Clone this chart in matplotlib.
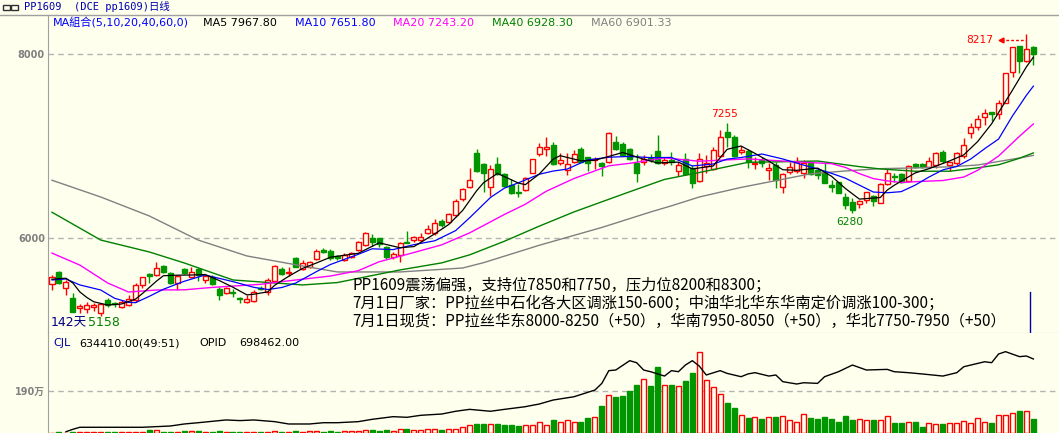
import matplotlib
matplotlib.use('Agg')
import matplotlib.pyplot as plt
import numpy as np
from matplotlib.lines import Line2D
from matplotlib.patches import Rectangle

plt.rcParams['font.family'] = ['DejaVu Sans', 'Noto Sans CJK SC']

# daily candles, PP1609
opens = [5503, 5634, 5456, 5355, 5239, 5228, 5250, 5192, 5329, 5300,
         5257, 5271, 5329, 5492, 5608, 5601, 5702, 5619, 5510, 5663,
         5583, 5666, 5547, 5576, 5445, 5409, 5420, 5347, 5311, 5318,
         5463, 5420, 5539, 5663, 5619, 5782, 5663, 5684, 5775, 5873,
         5865, 5808, 5765, 5801, 5873, 5928, 6000, 6000, 5902, 5793,
         5819, 5960, 5982, 5982, 6062, 6054, 6188, 6181, 6254, 6427,
         6554, 6931, 6808, 6562, 6808, 6696, 6580, 6503, 6525, 6714,
         6913, 6967, 7014, 6815, 6743, 6833, 6967, 6880, 6855, 6815,
         6833, 7050, 7025, 6971, 6815, 6833, 6869, 6952, 6815, 6851,
         6731, 6858, 6760, 6626, 6790, 6750, 6895, 7152, 7097, 6942,
         6952, 6808, 6851, 6742, 6797, 6554, 6724, 6735, 6713, 6815,
         6742, 6724, 6580, 6616, 6445, 6398, 6369, 6416, 6460, 6387,
         6590, 6673, 6699, 6626, 6808, 6808, 6771, 6797, 6942, 6797,
         6815, 6890, 7141, 7214, 7322, 7373, 7351, 7467, 7804, 8090,
         7931, 8076]
highs = [5601, 5648, 5547, 5409, 5286, 5308, 5300, 5300, 5347, 5311,
         5326, 5384, 5510, 5583, 5619, 5746, 5710, 5630, 5601, 5673,
         5684, 5673, 5601, 5601, 5474, 5474, 5445, 5358, 5384, 5438,
         5481, 5565, 5710, 5692, 5692, 5800, 5764, 5757, 5880, 5891,
         5880, 5818, 5837, 5855, 5975, 6072, 6047, 6000, 5917, 5855,
         5964, 6080, 6029, 6054, 6145, 6206, 6206, 6279, 6424, 6543,
         6761, 6967, 6815, 6797, 6880, 6707, 6641, 6590, 6670, 6859,
         7033, 7098, 7051, 6924, 6931, 6960, 6989, 6880, 6880, 6826,
         7159, 7112, 7050, 6978, 6916, 6905, 6916, 7123, 6887, 6942,
         6833, 6931, 6797, 6931, 6905, 6996, 7177, 7255, 7123, 7003,
         6967, 6880, 6880, 6815, 6833, 6706, 6833, 6880, 6851, 6833,
         6760, 6815, 6634, 6616, 6489, 6434, 6416, 6506, 6470, 6597,
         6749, 6706, 6713, 6797, 6822, 6815, 6887, 6942, 6960, 6833,
         6942, 7087, 7250, 7340, 7402, 7376, 7503, 7800, 8083, 8090,
         8217, 8090]
lows = [5438, 5503, 5384, 5200, 5192, 5184, 5213, 5158, 5257, 5257,
        5246, 5264, 5311, 5456, 5510, 5594, 5619, 5503, 5438, 5612,
        5565, 5539, 5510, 5492, 5329, 5395, 5366, 5293, 5300, 5311,
        5438, 5384, 5529, 5601, 5590, 5684, 5655, 5673, 5764, 5844,
        5764, 5764, 5750, 5783, 5866, 5917, 5917, 5910, 5772, 5772,
        5746, 5946, 5957, 5964, 6047, 6036, 6127, 6170, 6235, 6409,
        6543, 6725, 6507, 6460, 6688, 6561, 6482, 6452, 6518, 6707,
        6895, 6891, 6797, 6797, 6689, 6815, 6826, 6735, 6750, 6673,
        6822, 6960, 6895, 6851, 6616, 6797, 6833, 6808, 6797, 6797,
        6677, 6688, 6543, 6616, 6706, 6742, 6887, 6996, 6887, 6916,
        6760, 6750, 6772, 6634, 6543, 6496, 6699, 6713, 6652, 6688,
        6641, 6597, 6507, 6489, 6315, 6280, 6325, 6380, 6351, 6380,
        6579, 6615, 6604, 6615, 6760, 6760, 6760, 6760, 6815, 6735,
        6797, 6870, 7087, 7177, 7232, 7279, 7293, 7467, 7750, 7793,
        7920, 7884]
closes = [5576, 5510, 5529, 5202, 5268, 5275, 5275, 5286, 5271, 5286,
          5311, 5336, 5492, 5576, 5594, 5673, 5630, 5510, 5590, 5619,
          5630, 5601, 5590, 5503, 5384, 5463, 5402, 5337, 5340, 5420,
          5445, 5547, 5699, 5608, 5637, 5692, 5728, 5739, 5865, 5855,
          5782, 5782, 5819, 5844, 5957, 6054, 5964, 5938, 5801, 5830,
          5953, 5953, 6011, 6018, 6098, 6163, 6145, 6264, 6409, 6536,
          6634, 6735, 6707, 6750, 6699, 6572, 6489, 6496, 6659, 6859,
          6989, 6989, 6804, 6851, 6808, 6913, 6833, 6822, 6862, 6790,
          7141, 6967, 6905, 6858, 6713, 6858, 6851, 6815, 6851, 6826,
          6797, 6699, 6597, 6858, 6815, 6960, 7097, 7105, 6895, 6960,
          6833, 6822, 6815, 6760, 6634, 6695, 6771, 6833, 6822, 6699,
          6688, 6605, 6554, 6496, 6362, 6308, 6409, 6499, 6409, 6590,
          6713, 6667, 6615, 6786, 6771, 6771, 6840, 6931, 6844, 6826,
          6923, 7010, 7206, 7293, 7366, 7351, 7467, 7793, 8076, 7931,
          8054, 8003]

# volume (万手)
volumes = [2, 3, 2, 4, 3, 3, 3, 4, 3, 3,
           3, 4, 5, 5, 12, 13, 5, 6, 5, 10,
           10, 9, 5, 6, 10, 5, 5, 6, 5, 6,
           5, 6, 8, 6, 6, 7, 6, 7, 9, 6,
           8, 6, 7, 7, 9, 12, 13, 9, 13, 9,
           16, 16, 13, 13, 16, 19, 13, 16, 19, 25,
           34, 40, 40, 40, 40, 38, 35, 32, 35, 38,
           51, 36, 59, 51, 59, 51, 51, 69, 72, 122,
           172, 163, 167, 190, 219, 243, 213, 300, 217, 217,
           213, 235, 271, 365, 240, 207, 176, 137, 113, 80,
           68, 72, 63, 71, 72, 77, 59, 50, 86, 68,
           63, 72, 63, 50, 77, 59, 63, 59, 59, 59,
           77, 45, 45, 50, 50, 27, 45, 41, 41, 45,
           45, 54, 45, 68, 50, 45, 81, 81, 90, 100,
           100, 63.4]

# open interest (万手), read at these bars
oi_idx = [2, 3, 4, 8, 13, 15, 17, 19, 21, 25, 27, 29, 32, 34, 37, 39, 41, 44,
          46, 49, 51, 53, 56, 58, 60, 63, 65, 68, 69, 70, 72, 75, 78, 79, 80,
          81, 83, 84, 85, 86, 88, 89, 90, 91, 92, 93, 94, 96, 97, 99, 100, 101,
          103, 104, 105, 107, 108, 110, 111, 113, 115, 117, 120, 121, 123, 125,
          128, 130, 131, 134, 135, 136, 137, 139, 140, 141]
oi = [1.2, 3.5, 5.4, 5.4, 5.4, 6.0, 6.6, 8.5, 9.7, 12.3, 11.7, 12.3, 10.7, 8.5,
      8.5, 9.7, 9.7, 10.7, 12.9, 15.4, 14.8, 16.7, 17.9, 20.5, 22.3, 20.5, 22.3,
      24.8, 26.1, 27.3, 31.1, 34.2, 40.5, 46.8, 58.8, 59.4, 68.2, 66.3, 59.4,
      57.8, 53.7, 58.8, 57.8, 64.1, 68.2, 63.1, 54.7, 58.8, 56.2, 53.1, 55.7,
      56.9, 53.7, 54.7, 48.4, 46.2, 47.4, 46.8, 53.1, 57.8, 64.1, 59.4, 60.0,
      57.8, 56.9, 55.7, 53.7, 56.9, 62.5, 67.2, 66.3, 74.5, 76.7, 72.0, 72.6, 69.8]

# moving averages, read at these bars
ma5_idx = [0, 2, 3, 4, 5, 6, 8, 10, 12, 13, 15, 16, 18, 20, 22, 24, 26, 28, 29, 31,
           32, 34, 36, 38, 40, 41, 44, 47, 50, 52, 55, 57, 59, 61, 62, 64, 67, 68,
           70, 72, 73, 76, 78, 80, 82, 85, 87, 90, 92, 95, 97, 99, 101, 103, 105,
           107, 110, 112, 114, 116, 119, 120, 121, 124, 126, 129, 131, 133, 135,
           138, 140, 141]
ma5 = [5555, 5566, 5514, 5417, 5357, 5310, 5275, 5286, 5339, 5400, 5534, 5593,
       5599, 5601, 5606, 5542, 5468, 5385, 5392, 5418, 5490, 5587, 5673, 5732,
       5794, 5805, 5837, 5951, 5897, 5910, 6049, 6150, 6303, 6516, 6604, 6705,
       6601, 6583, 6698, 6860, 6898, 6842, 6848, 6890, 6933, 6860, 6819, 6828,
       6754, 6786, 6967, 7003, 6923, 6838, 6745, 6739, 6763, 6674, 6541, 6426,
       6443, 6524, 6576, 6710, 6757, 6842, 6907, 7052, 7245, 7611, 7864, 7968]
ma10_idx = [0, 2, 4, 7, 9, 11, 12, 14, 16, 19, 22, 26, 29, 31, 33, 35, 38, 40, 44,
            46, 49, 52, 55, 58, 60, 63, 65, 67, 70, 72, 74, 77, 80, 83, 86, 89, 92,
            95, 97, 99, 102, 105, 108, 110, 112, 114, 116, 118, 120, 122, 124, 126,
            128, 130, 132, 134, 136, 138, 139, 140, 141]
ma10 = [5547, 5558, 5493, 5438, 5348, 5304, 5300, 5370, 5446, 5533, 5601, 5529,
        5467, 5443, 5465, 5513, 5638, 5715, 5826, 5886, 5877, 5931, 5973, 6084,
        6223, 6444, 6545, 6603, 6696, 6731, 6752, 6853, 6881, 6890, 6877, 6879,
        6787, 6807, 6861, 6878, 6916, 6862, 6795, 6754, 6706, 6653, 6578, 6503,
        6495, 6507, 6577, 6666, 6744, 6781, 6862, 6974, 7079, 7331, 7442, 7555,
        7654]
ma20_idx = [0, 4, 8, 11, 15, 19, 23, 30, 33, 40, 44, 47, 51, 56, 60, 65, 68, 71, 75,
            80, 83, 88, 93, 100, 107, 112, 114, 116, 118, 120, 122, 124, 126, 128,
            131, 133, 136, 139, 141]
ma20 = [5839, 5709, 5514, 5416, 5438, 5440, 5466, 5500, 5529, 5590, 5648, 5745,
        5825, 5929, 6059, 6259, 6370, 6511, 6650, 6788, 6815, 6874, 6838, 6863,
        6831, 6811, 6770, 6703, 6649, 6624, 6606, 6615, 6622, 6628, 6666, 6739,
        6894, 7109, 7243]
ma40_idx = [0, 7, 14, 19, 26, 36, 41, 50, 56, 60, 65, 70, 75, 80, 83, 88, 93, 100,
            105, 110, 116, 119, 124, 129, 133, 136, 139, 141]
ma40 = [6283, 5981, 5851, 5732, 5547, 5493, 5519, 5656, 5733, 5820, 5968, 6132,
        6287, 6424, 6506, 6640, 6715, 6826, 6832, 6840, 6779, 6754, 6729, 6729,
        6766, 6799, 6870, 6928]
ma60_idx = [0, 7, 14, 21, 28, 36, 41, 50, 59, 62, 70, 79, 86, 89, 93, 99, 109, 114,
            119, 124, 129, 133, 139, 141]
ma60 = [6631, 6449, 6242, 5981, 5808, 5699, 5634, 5634, 5677, 5735, 5924, 6118,
        6286, 6353, 6449, 6553, 6701, 6732, 6757, 6765, 6777, 6797, 6873, 6901]

notes = ['PP1609震荡偏强，支持位7850和7750，压力位8200和8300；',
         '7月1日厂家：PP拉丝中石化各大区调涨150-600；中油华北华东华南定价调涨100-300；',
         '7月1日现货：PP拉丝华东8000-8250（+50），华南7950-8050（+50），华北7750-7950（+50）']

W, H = 1059, 433
BG = '#FFFFEE'
RED = '#FF0000'
GREEN = '#009600'
GRID = '#B4B4B4'
FRAME = '#A0A0A0'
CJK = ['DejaVu Sans', 'Noto Sans CJK SC']

o = np.array(opens, float)
h = np.array(highs, float)
l = np.array(lows, float)
c = np.array(closes, float)
v = np.array(volumes, float)
x = np.arange(len(c))
up = c >= o

fig = plt.figure(figsize=(W / 100, H / 100), dpi=100, facecolor=BG)


def fx(px):
    return px / W


def fy(py):
    return 1 - py / H


# price panel
ax = fig.add_axes([fx(48), fy(333), fx(W - 48), 318 / H], facecolor=BG)
ax.set_xlim(-0.575, 144.68)
ax.set_ylim(4970.6, 8427.2)

ax.vlines(x, l, h, colors=np.where(up, RED, GREEN), lw=1, zorder=2)
bot = np.minimum(o, c)
hgt = np.maximum(np.abs(c - o), 6)
ax.bar(x[up], hgt[up], bottom=bot[up], width=0.72, facecolor=BG,
       edgecolor=RED, lw=1, zorder=3)
ax.bar(x[~up], hgt[~up], bottom=bot[~up], width=0.72, facecolor=GREEN,
       edgecolor=GREEN, lw=1, zorder=3)

ax.plot(ma60_idx, ma60, color='#808080', lw=1, zorder=4)
ax.plot(ma40_idx, ma40, color='#008000', lw=1, zorder=4)
ax.plot(ma20_idx, ma20, color='#FF00FF', lw=1, zorder=4)
ax.plot(ma10_idx, ma10, color='#0000FF', lw=0.9, zorder=4)
ax.plot(ma5_idx, ma5, color='black', lw=0.9, zorder=4)

ax.set_yticks([6000, 8000])
ax.yaxis.grid(True, ls=(0, (4, 3)), color=GRID, lw=1)
ax.set_xticks([])
ax.tick_params(axis='y', length=0, pad=2.2, labelsize=7, labelcolor='#808080')
for t in ax.get_yticklabels():
    t.set_fontweight('bold')
for s in ['top', 'right']:
    ax.spines[s].set_visible(False)
for s in ['left', 'bottom']:
    ax.spines[s].set_color(FRAME)

# high / low markers
px_price = (8427.2 - 4970.6) / 318
i_hi = int(np.argmax(h))
ax.annotate(f'{h[97]:.0f}', xy=(97, h[97]), xytext=(-2, 3), textcoords='offset points',
            ha='center', va='bottom', color=RED, fontsize=7.7)
ax.annotate(f'{l[115]:.0f}', xy=(115, l[115]), xytext=(-2, -3), textcoords='offset points',
            ha='center', va='top', color='#008000', fontsize=7.7)
y_arr = h[i_hi] - 5.7 * px_price
ax.plot([i_hi - 3.6, i_hi], [y_arr, y_arr], color=RED, lw=1, ls=(0, (2, 1.5)), zorder=5)
ax.plot(i_hi - 3.6, y_arr, marker='<', ms=3.5, color=RED, zorder=5)
ax.text(i_hi - 4.7, y_arr, f'{h[i_hi]:.0f}', ha='right', va='center', color=RED, fontsize=7.7)

# cursor line
ax.axvline(len(c) - 1.5, ymin=0, ymax=41 / 318, color='#0000A0', lw=1)

# volume panel
axv = fig.add_axes([fx(48), 0, fx(W - 48), 100 / H], facecolor=BG)
axv.set_xlim(-0.575, 144.68)
axv.set_ylim(0, 452.4)
axv.bar(x[up], v[up], width=0.72, facecolor=BG, edgecolor=RED, lw=1, zorder=3)
axv.bar(x[~up], v[~up], width=0.72, facecolor=GREEN, edgecolor=GREEN, lw=1, zorder=3)
axv.set_yticks([190])
axv.set_yticklabels(['190万'], fontweight='bold', family=CJK)
axv.yaxis.grid(True, ls=(0, (4, 3)), color=GRID, lw=1)
axv.set_xticks([])
axv.tick_params(axis='y', length=0, pad=2.2, labelsize=7, labelcolor='#808080')
for s in ['top', 'right', 'bottom']:
    axv.spines[s].set_visible(False)
axv.spines['left'].set_color(FRAME)

axo = axv.twinx()
axo.set_ylim(0, 94.3)
axo.plot(oi_idx, oi, color='black', lw=1, zorder=4)
axo.set_yticks([])
for s in axo.spines.values():
    s.set_visible(False)

# frame line under the title
fig.add_artist(Line2D([0, 1], [fy(15), fy(15)], color=FRAME, lw=1))

# link icon + title
fig.add_artist(Rectangle((fx(3), fy(10)), fx(7), 5 / H, fill=False, ec='#303030', lw=1))
fig.add_artist(Rectangle((fx(11), fy(10)), fx(7), 5 / H, fill=False, ec='#303030', lw=1))
fig.text(fx(24), fy(7), 'PP1609  (DCE pp1609)日线', color='#0000B0', fontsize=7.5,
         va='center', family=['DejaVu Sans Mono', 'Noto Sans CJK SC'])

# MA legend
legend = [(53, 'MA組合(5,10,20,40,60,0)', '#0000FF'),
          (203, f'MA5 {7967.80:.2f}', 'black'),
          (295, f'MA10 {7651.80:.2f}', '#0000FF'),
          (393, f'MA20 {7243.20:.2f}', '#FF00FF'),
          (492, f'MA40 {6928.30:.2f}', '#008000'),
          (591, f'MA60 {6901.33:.2f}', '#808080')]
for px, s, col in legend:
    fig.text(fx(px), fy(23), s, color=col, fontsize=8, va='center', family=CJK)

# volume header
fig.text(fx(53), fy(343), 'CJL', color='#0000A0', fontsize=8, va='center')
fig.text(fx(79), fy(343), '634410.00(49:51)', color='black', fontsize=8, va='center')
fig.text(fx(199), fy(343), 'OPID', color='black', fontsize=8, va='center')
fig.text(fx(239), fy(343), '698462.00', color='black', fontsize=8, va='center')

# range info: day count, then lowest low right after it
days = fig.text(fx(51), fy(323), f'{len(c)}天', color='#000080', fontsize=9,
                va='center', family=CJK)
renderer = fig.canvas.get_renderer()
bb = days.get_window_extent(renderer)
fig.text(bb.x1 / W + fx(1), fy(323), f'{l.min():.0f}', color='#008000', fontsize=9,
         va='center')

# comment lines
for i, s in enumerate(notes):
    fig.text(fx(352), fy(285 + 18 * i), s, color='black', fontsize=11, va='center',
             family=['Noto Sans CJK SC', 'DejaVu Sans'])

fig.savefig('out.png', dpi=100, facecolor=BG)
